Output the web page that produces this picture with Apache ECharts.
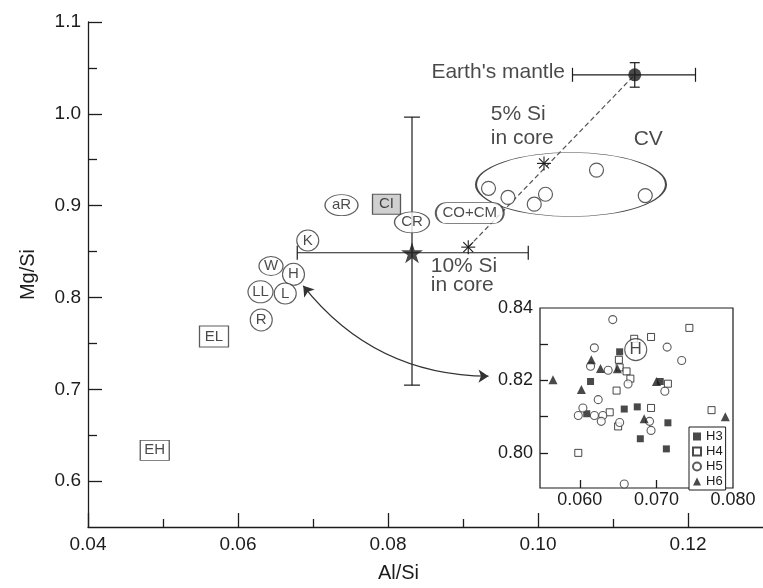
<!DOCTYPE html>
<html><head><meta charset="utf-8">
<script src="https://cdn.jsdelivr.net/npm/echarts@6/dist/echarts.min.js"></script>
<style>html,body{margin:0;padding:0;background:#fff}#c{width:763px;height:588px}</style>
</head><body><div id="c"></div>
<script>
// ---------- data ----------
const xTicksMain = [0.04, 0.06, 0.08, 0.10, 0.12];
const xMinorMain = [0.05, 0.07, 0.09, 0.11];
const yTicksMain = [0.6, 0.7, 0.8, 0.9, 1.0, 1.1];
const yMinorMain = [0.65, 0.75, 0.85, 0.95, 1.05];

const groupNames = ['aR', 'CI', 'CR', 'K', 'W', 'H', 'LL', 'L', 'R', 'EL', 'EH', 'CO+CM'];
const groupAlSi  = [0.0738, 0.0798, 0.0832, 0.0693, 0.0644, 0.0674, 0.0630, 0.0663, 0.0631, 0.0568, 0.0489, 0.0909];
const groupMgSi  = [0.9005, 0.9015, 0.8818, 0.8620, 0.8342, 0.8252, 0.8061, 0.8043, 0.7755, 0.7575, 0.6335, 0.8919];

const cvAlSi = [0.0934, 0.0960, 0.0995, 0.1010, 0.1078, 0.1143];
const cvMgSi = [0.9189, 0.9089, 0.9016, 0.9124, 0.9387, 0.9110];
const cvField = [0.1044, 0.9230];

const mantle = [0.1129, 1.0425];
const mantleAlSiRange = [0.1046, 0.1210];
const mantleMgSiRange = [1.0290, 1.0557];

const bulk = [0.0832, 0.8487];
const bulkAlSiRange = [0.0679, 0.0987];
const bulkMgSiRange = [0.7045, 0.9964];

const si5 = [0.1008, 0.9460];
const si10 = [0.0907, 0.8548];

const arrowFrom = [0.0687, 0.8127];
const arrowTo = [0.0934, 0.7143];

const insetXLabels = [0.060, 0.070, 0.080];
const insetXTicks = [0.060, 0.070];
const insetYLabels = [0.80, 0.82, 0.84];
const insetYTicks = [0.80, 0.81, 0.82, 0.83];

const h3 = [[0.0652,0.8279],[0.0614,0.8197],[0.0609,0.8108],[0.0658,0.8121],[0.0675,0.8127],
            [0.0679,0.8039],[0.0715,0.8083],[0.0713,0.8011],[0.0705,0.8197]];
const h4 = [[0.0598,0.8000],[0.0650,0.8073],[0.0639,0.8112],[0.0648,0.8172],[0.0651,0.8257],
            [0.0652,0.8236],[0.0661,0.8225],[0.0666,0.8205],[0.0671,0.8315],[0.0693,0.8320],
            [0.0743,0.8345],[0.0693,0.8124],[0.0715,0.8191],[0.0772,0.8118]];
const h5 = [[0.0643,0.8368],[0.0619,0.8290],[0.0614,0.8239],[0.0637,0.8228],[0.0663,0.8190],
            [0.0624,0.8147],[0.0604,0.8124],[0.0598,0.8103],[0.0619,0.8103],[0.0630,0.8103],
            [0.0628,0.8087],[0.0652,0.8084],[0.0691,0.8087],[0.0693,0.8062],[0.0714,0.8292],
            [0.0733,0.8255],[0.0711,0.8170],[0.0658,0.7914]];
const h6 = [[0.0565,0.8202],[0.0602,0.8175],[0.0615,0.8257],[0.0627,0.8233],[0.0649,0.8232],
            [0.0700,0.8197],[0.0684,0.8094],[0.0790,0.8100]];
const insetH = [0.0673, 0.8285];

const annoText = ["Earth's mantle", '5% Si\nin core', '10% Si\nin core', 'CV'];
const annoAlSi = [0.1036, 0.0937, 0.0857, 0.1147];
const annoMgSi = [1.0457, 0.9866, 0.8238, 0.9722];

// ---------- styles ----------
const FONT = '"Liberation Sans", Arial, Helvetica, sans-serif';
const INK = '#1c1c1c';
const stadium = 'path://M10.5,0H57.5A10.5,10.5,0,0,1,57.5,21H10.5A10.5,10.5,0,0,1,10.5,0Z';
const groupStyle = {
  'aR': {symbol:'circle', size:[33,21]},
  'CI': {symbol:'rect', size:[28,20], fill:'#c4c4c4'},
  'CR': {symbol:'circle', size:[35,21]},
  'K':  {symbol:'circle', size:[22,21]},
  'W':  {symbol:'circle', size:[24,19]},
  'H':  {symbol:'circle', size:[22,22]},
  'LL': {symbol:'circle', size:[25,22]},
  'L':  {symbol:'circle', size:[22,21]},
  'R':  {symbol:'circle', size:[22,22]},
  'EL': {symbol:'rect', size:[29,21]},
  'EH': {symbol:'rect', size:[29,20]},
  'CO+CM': {symbol:stadium, size:[68,21]}
};
const annoAlign = ['right', 'left', 'left', 'center'];
const annoLineH = [22, 24, 19, 22];
const starPath = 'path://M50,0L61.8,35.4L99,35.4L69,57.3L80.4,92.7L50,70.8L19.6,92.7L31,57.3L1,35.4L38.2,35.4Z';

const chart = echarts.init(document.getElementById('c'));

const axisLineStyle = {color: INK, width: 1.3};

const option = {
  animation: false,
  backgroundColor: '#fff',
  textStyle: {fontFamily: FONT},
  grid: [
    {left: 88, top: 22, right: 0, bottom: 57},
    {left: 540, top: 308, width: 193, height: 180, show: true, backgroundColor: '#fff', borderColor: INK, borderWidth: 1.2}
  ],
  legend: {
    data: ['H3', 'H4', 'H5', 'H6'],
    orient: 'vertical', left: 689, top: 427,
    itemWidth: 8, itemHeight: 8, itemGap: 2,
    padding: [3, 3, 2, 3],
    borderColor: INK, borderWidth: 1, backgroundColor: '#fff',
    selectedMode: false,
    textStyle: {fontSize: 13, color: INK, lineHeight: 12.5, fontFamily: FONT}
  },
  xAxis: [
    {gridIndex: 0, type: 'value', min: 0.04, max: 0.13, position: 'bottom',
     axisLine: {show: true, onZero: false, lineStyle: axisLineStyle},
     axisTick: {show: true, inside: true, length: 14, customValues: xTicksMain, lineStyle: axisLineStyle},
     axisLabel: {show: true, customValues: xTicksMain, formatter: v => v.toFixed(2), fontSize: 19, color: INK, margin: 8},
     splitLine: {show: false},
     name: 'Al/Si', nameLocation: 'middle', nameGap: 36,
     nameTextStyle: {fontSize: 20, color: INK, padding: [0, 54, 0, 0]}},
    {gridIndex: 0, type: 'value', min: 0.04, max: 0.13, position: 'bottom',
     axisLine: {show: false},
     axisTick: {show: true, inside: true, length: 8, customValues: xMinorMain, lineStyle: axisLineStyle},
     axisLabel: {show: false}, splitLine: {show: false}},
    {gridIndex: 1, type: 'value', min: 0.0548, max: 0.080, position: 'bottom',
     axisLine: {show: false},
     axisTick: {show: true, inside: true, length: 8, customValues: insetXTicks, lineStyle: axisLineStyle},
     axisLabel: {show: true, customValues: insetXLabels, formatter: v => v.toFixed(3), fontSize: 18, color: INK, margin: 3},
     splitLine: {show: false}}
  ],
  yAxis: [
    {gridIndex: 0, type: 'value', min: 0.55, max: 1.1, position: 'left',
     axisLine: {show: true, onZero: false, lineStyle: axisLineStyle},
     axisTick: {show: true, inside: true, length: 14, customValues: yTicksMain, lineStyle: axisLineStyle},
     axisLabel: {show: true, customValues: yTicksMain, formatter: v => v.toFixed(1), fontSize: 19, color: INK, margin: 7},
     splitLine: {show: false},
     name: 'Mg/Si', nameLocation: 'middle', nameGap: 50, nameRotate: 90,
     nameTextStyle: {fontSize: 20, color: INK}},
    {gridIndex: 0, type: 'value', min: 0.55, max: 1.1, position: 'left',
     axisLine: {show: false},
     axisTick: {show: true, inside: true, length: 9, customValues: yMinorMain, lineStyle: axisLineStyle},
     axisLabel: {show: false}, splitLine: {show: false}},
    {gridIndex: 1, type: 'value', min: 0.7903, max: 0.84, position: 'left',
     axisLine: {show: false},
     axisTick: {show: true, inside: true, length: 8, customValues: insetYTicks, lineStyle: axisLineStyle},
     axisLabel: {show: true, customValues: insetYLabels, formatter: v => v.toFixed(2), fontSize: 18, color: INK, margin: 7},
     splitLine: {show: false}}
  ],
  series: [
    // CV field outline
    {type: 'scatter', xAxisIndex: 0, yAxisIndex: 0, z: 1, silent: true,
     symbol: 'circle', symbolSize: [190, 64],
     itemStyle: {color: 'rgba(0,0,0,0)', borderColor: INK, borderWidth: 1.2},
     data: [cvField]},
    // dashed mixing line
    {type: 'line', xAxisIndex: 0, yAxisIndex: 0, z: 2, silent: true, symbol: 'none',
     lineStyle: {color: '#555', width: 1.2, type: [5, 3]},
     data: [si10, mantle]},
    // error bars
    {type: 'custom', xAxisIndex: 0, yAxisIndex: 0, z: 2, silent: true,
     encode: {x: [0, 2, 3], y: [1, 4, 5]},
     data: [
       [bulk[0], bulk[1], bulkAlSiRange[0], bulkAlSiRange[1], bulkMgSiRange[0], bulkMgSiRange[1]],
       [mantle[0], mantle[1], mantleAlSiRange[0], mantleAlSiRange[1], mantleMgSiRange[0], mantleMgSiRange[1]]
     ],
     renderItem: function (params, api) {
       const x = api.value(0), y = api.value(1);
       const xl = api.coord([api.value(2), y]), xh = api.coord([api.value(3), y]);
       const yl = api.coord([x, api.value(4)]), yh = api.coord([x, api.value(5)]);
       const capH = 7;
       const capW = params.dataIndex === 0 ? 8 : 5;
       const st = {stroke: INK, lineWidth: 1.2};
       const L = (x1, y1, x2, y2) => ({type: 'line', shape: {x1, y1, x2, y2}, style: st});
       return {type: 'group', children: [
         L(xl[0], xl[1], xh[0], xh[1]),
         L(xl[0], xl[1] - capH, xl[0], xl[1] + capH),
         L(xh[0], xh[1] - capH, xh[0], xh[1] + capH),
         L(yl[0], yl[1], yh[0], yh[1]),
         L(yl[0] - capW, yl[1], yl[0] + capW, yl[1]),
         L(yh[0] - capW, yh[1], yh[0] + capW, yh[1])
       ]};
     }},
    // curved double arrow
    {type: 'lines', coordinateSystem: 'cartesian2d', xAxisIndex: 0, yAxisIndex: 0, z: 3, silent: true,
     symbol: ['arrow', 'arrow'], symbolSize: 10,
     lineStyle: {color: '#333', width: 1.3, curveness: -0.24, opacity: 1},
     data: [{coords: [arrowFrom, arrowTo]}]},
    // meteorite groups
    {type: 'scatter', xAxisIndex: 0, yAxisIndex: 0, z: 4, silent: true,
     data: groupNames.map((n, i) => ({
       name: n, value: [groupAlSi[i], groupMgSi[i]],
       symbol: groupStyle[n].symbol, symbolSize: groupStyle[n].size,
       itemStyle: {color: groupStyle[n].fill || '#fff', borderColor: '#333', borderWidth: 1.1}
     })),
     label: {show: true, position: 'inside', formatter: p => p.name, fontSize: 15, color: INK, fontFamily: FONT}},
    // CV chondrites
    {type: 'scatter', xAxisIndex: 0, yAxisIndex: 0, z: 4, silent: true,
     symbol: 'circle', symbolSize: 14,
     itemStyle: {color: '#fff', borderColor: '#333', borderWidth: 1.2},
     data: cvAlSi.map((x, i) => [x, cvMgSi[i]])},
    // asterisks (Si in core)
    {type: 'custom', xAxisIndex: 0, yAxisIndex: 0, z: 5, silent: true,
     data: [si5, si10],
     renderItem: function (params, api) {
       const c = api.coord([api.value(0), api.value(1)]);
       const r = 7, ch = [];
       [0, 45, 90, 135].forEach(a => {
         const t = a * Math.PI / 180, dx = r * Math.cos(t), dy = r * Math.sin(t);
         ch.push({type: 'line', shape: {x1: c[0] - dx, y1: c[1] - dy, x2: c[0] + dx, y2: c[1] + dy},
                  style: {stroke: INK, lineWidth: 1.1}});
       });
       return {type: 'group', children: ch};
     }},
    // bulk Earth star
    {type: 'scatter', xAxisIndex: 0, yAxisIndex: 0, z: 5, silent: true,
     symbol: starPath, symbolSize: [22, 21], itemStyle: {color: INK},
     data: [bulk]},
    // Earth's mantle
    {type: 'scatter', xAxisIndex: 0, yAxisIndex: 0, z: 5, silent: true,
     symbol: 'circle', symbolSize: 13, itemStyle: {color: INK},
     data: [mantle]},
    // annotations
    {type: 'scatter', xAxisIndex: 0, yAxisIndex: 0, z: 6, silent: true,
     symbolSize: 0,
     data: annoText.map((t, i) => ({
       name: t, value: [annoAlSi[i], annoMgSi[i]],
       label: {align: annoAlign[i], lineHeight: annoLineH[i]}
     })),
     label: {show: true, position: 'inside', formatter: p => p.name, fontSize: 21, color: INK, fontFamily: FONT}},
    // inset: H chondrites
    {name: 'H3', type: 'scatter', xAxisIndex: 2, yAxisIndex: 2, z: 4, silent: true,
     symbol: 'rect', symbolSize: 7, itemStyle: {color: INK},
     data: h3},
    {name: 'H4', type: 'scatter', xAxisIndex: 2, yAxisIndex: 2, z: 4, silent: true,
     symbol: 'rect', symbolSize: 7, itemStyle: {color: '#fff', borderColor: INK, borderWidth: 1},
     data: h4},
    {name: 'H5', type: 'scatter', xAxisIndex: 2, yAxisIndex: 2, z: 4, silent: true,
     symbol: 'circle', symbolSize: 8, itemStyle: {color: '#fff', borderColor: '#333', borderWidth: 1.1},
     data: h5},
    {name: 'H6', type: 'scatter', xAxisIndex: 2, yAxisIndex: 2, z: 4, silent: true,
     symbol: 'triangle', symbolSize: 9, itemStyle: {color: INK},
     data: h6},
    {type: 'scatter', xAxisIndex: 2, yAxisIndex: 2, z: 5, silent: true,
     symbol: 'circle', symbolSize: 22,
     itemStyle: {color: '#fff', borderColor: '#333', borderWidth: 1.1},
     label: {show: true, position: 'inside', formatter: 'H', fontSize: 17, color: INK, fontFamily: FONT},
     data: [insetH]}
  ]
};
chart.setOption(option);
</script>
</body></html>
